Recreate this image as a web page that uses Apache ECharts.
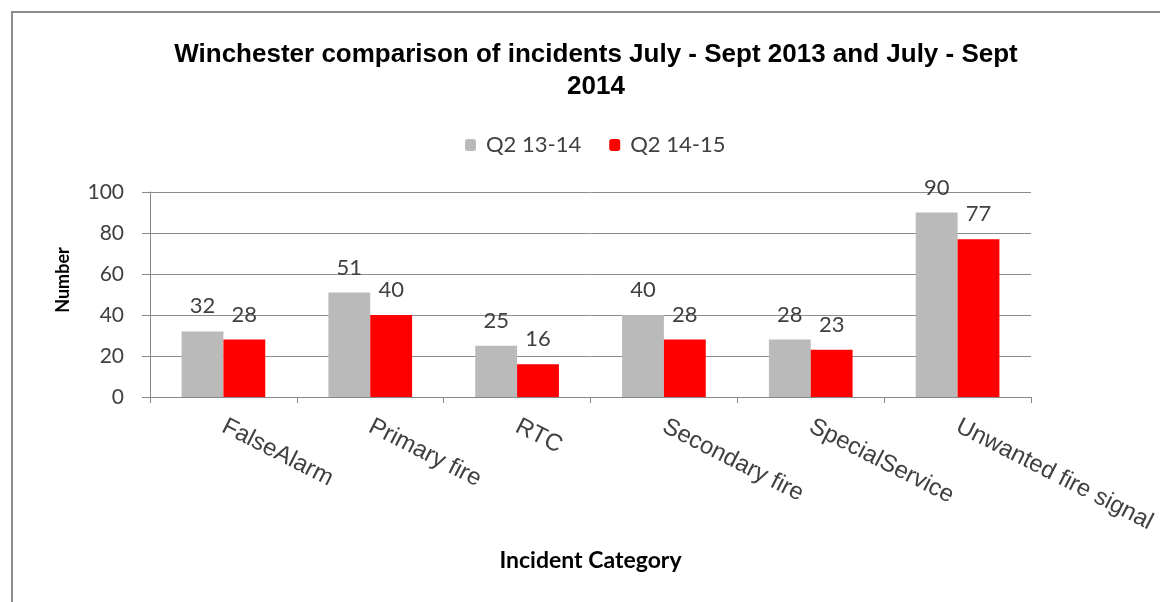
<!DOCTYPE html>
<html><head><meta charset="utf-8">
<script src="https://cdn.jsdelivr.net/npm/echarts@6/dist/echarts.min.js"></script>
<style>html,body{margin:0;padding:0;background:#fff}#c{width:1160px;height:602px}</style>
</head><body><div id="c"></div>
<script>
const categories = ["FalseAlarm", "Primary fire", "RTC", "Secondary fire", "SpecialService", "Unwanted fire signal"];
const seriesNames = ["Q2 13-14", "Q2 14-15"];
const q2_1314 = [32, 51, 25, 40, 28, 90];
const q2_1415 = [28, 40, 16, 28, 23, 77];
const yTicks = [0, 20, 40, 60, 80, 100];

const chart = echarts.init(document.getElementById('c'), null, {renderer: 'canvas'});
const labelStyle = {show: true, position: 'top', distance: 14, color: '#404040', fontFamily: 'Lato', fontSize: 22};
chart.setOption({
  animation: false,
  backgroundColor: '#fff',
  graphic: [
    {type: 'polyline', shape: {points: [[12, 602], [12, 12], [1160, 12]]}, style: {stroke: '#8c8c8c', lineWidth: 2, fill: null}},
    {type: 'text', x: 63, y: 280, rotation: Math.PI / 2,
      style: {text: 'Number', fontFamily: 'Lato', fontWeight: 'bold', fontSize: 18, fill: '#000', align: 'center', verticalAlign: 'middle'}}
  ],
  title: {
    text: 'Winchester comparison of incidents July - Sept 2013 and July - Sept\n2014',
    left: 591, top: 34, textAlign: 'center',
    textStyle: {fontFamily: 'Liberation Sans', fontWeight: 'bold', fontSize: 26, color: '#000', lineHeight: 32}
  },
  legend: {
    data: seriesNames, top: 129, left: 460, itemWidth: 11, itemHeight: 12, itemGap: 28,
    textStyle: {fontFamily: 'Lato', fontSize: 22, color: '#404040', padding: [0, 0, 0, 5]}
  },
  grid: {left: 150, right: 129, top: 192, bottom: 205, containLabel: false},
  xAxis: {
    type: 'category', data: categories,
    name: 'Incident Category', nameLocation: 'middle', nameGap: 152,
    nameTextStyle: {fontFamily: 'Lato', fontWeight: 'bold', fontSize: 23, color: '#000'},
    axisLine: {lineStyle: {color: '#888', width: 1}},
    axisTick: {show: true, length: 6, lineStyle: {color: '#888'}},
    axisLabel: {rotate: -27, margin: 28, fontFamily: 'Liberation Sans', fontSize: 24, color: '#404040', interval: 0}
  },
  yAxis: {
    type: 'value', min: 0, max: 100, interval: 20,
    axisLine: {show: true, lineStyle: {color: '#888'}},
    axisTick: {show: true, length: 8, lineStyle: {color: '#888'}},
    splitLine: {lineStyle: {color: '#8c8c8c', width: 1}},
    axisLabel: {fontFamily: 'Lato', fontSize: 21, color: '#404040', margin: 26,
      formatter: v => yTicks.includes(v) ? String(v) : ''}
  },
  series: [
    {name: seriesNames[0], type: 'bar', data: q2_1314, barGap: '0%', barCategoryGap: '43%',
      itemStyle: {color: '#bababa'}, label: labelStyle},
    {name: seriesNames[1], type: 'bar', data: q2_1415, barGap: '0%', barCategoryGap: '43%',
      itemStyle: {color: '#ff0000'}, label: labelStyle}
  ]
});
</script></body></html>
